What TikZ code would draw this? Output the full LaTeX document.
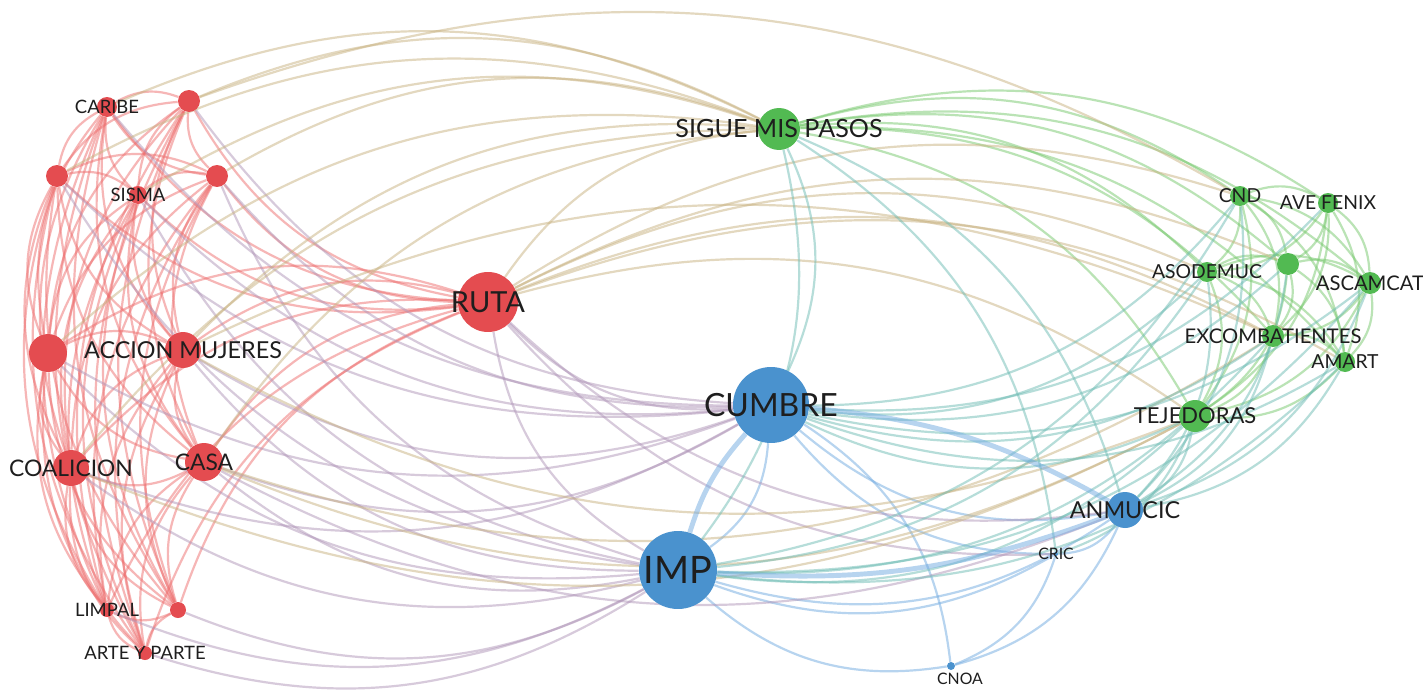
\documentclass[tikz,border=0pt]{standalone}
\usepackage{fontspec}
\setmainfont{Lato}
\usetikzlibrary{calc, backgrounds}

\definecolor{rednode}{RGB}{228,76,80}
\definecolor{greennode}{RGB}{82,186,82}
\definecolor{bluenode}{RGB}{74,146,206}
\definecolor{ered}{RGB}{238,110,110}
\definecolor{egreen}{RGB}{118,200,108}
\definecolor{eblue}{RGB}{112,170,225}
\definecolor{erb}{RGB}{176,150,185}
\definecolor{erg}{RGB}{200,178,128}
\definecolor{ebg}{RGB}{110,188,180}
\definecolor{labeltext}{RGB}{30,30,30}

\newcommand{\lblsize}[1]{\fontsize{#1}{#1}\selectfont}

% one curved link, bent away from the centre
\newcommand{\vlink}[3]{%
  \draw[edge, draw=#3] let \p1=(#1), \p2=(#2), \p3=(ctr),
    \n1={-25*sign(((\x2-\x1)/100)*((\y3-\y1)/100)-((\y2-\y1)/100)*((\x3-\x1)/100))}
    in (#1) to[bend left=\n1] (#2);}

% all links inside one cluster
\newcommand{\clusterlinks}[2]{%
  \foreach \a [count=\i] in {#1} {
    \foreach \b [count=\j] in {#1} {
      \ifnum\j>\i \vlink{\a}{\b}{#2}\fi
    }
  }}

\tikzset{
  vnode/.style={circle, inner sep=0pt, draw=none},
  rnode/.style={vnode, fill=rednode},
  gnode/.style={vnode, fill=greennode},
  bnode/.style={vnode, fill=bluenode},
  lbl/.style={text=labeltext, inner sep=0pt},
  edge/.style={line width=1.25pt, opacity=0.5},
  strong/.style={edge, line width=2.8pt}
}

\begin{document}
\begin{tikzpicture}[x=0.02cm, y=0.02cm]
  \useasboundingbox (0,0) rectangle (1423,691);
  \coordinate (ctr) at (700,345);

  % red cluster
  \node[rnode, minimum size=0.40cm, label={[lbl, font=\lblsize{10.5}]center:CARIBE}] (caribe) at (107,584) {};
  \node[rnode, minimum size=0.44cm] (ra) at (189,590) {};
  \node[rnode, minimum size=0.44cm] (rb) at (57,515) {};
  \node[rnode, minimum size=0.36cm, label={[lbl, font=\lblsize{10.5}]center:SISMA}] (sisma) at (138,496) {};
  \node[rnode, minimum size=0.44cm] (rc) at (217,515) {};
  \node[rnode, minimum size=0.76cm] (rd) at (48,338) {};
  \node[rnode, minimum size=0.72cm, label={[lbl, font=\lblsize{13.3}]center:ACCION MUJERES}] (accion) at (183,341) {};
  \node[rnode, minimum size=0.72cm, label={[lbl, font=\lblsize{13}]center:COALICION}] (coalicion) at (71,223) {};
  \node[rnode, minimum size=0.76cm, label={[lbl, font=\lblsize{13}]center:CASA}] (casa) at (204,229) {};
  \node[rnode, minimum size=0.28cm, label={[lbl, font=\lblsize{10.5}]center:LIMPAL}] (limpal) at (107,81) {};
  \node[rnode, minimum size=0.32cm] (re) at (178,81) {};
  \node[rnode, minimum size=0.28cm, label={[lbl, font=\lblsize{10.5}]center:ARTE Y PARTE}] (arte) at (145,38) {};
  \node[rnode, minimum size=1.20cm, label={[lbl, font=\lblsize{16.5}]center:RUTA}] (ruta) at (488,389) {};

  % green cluster
  \node[gnode, minimum size=0.84cm, label={[lbl, font=\lblsize{14.3}]center:SIGUE MIS PASOS}] (sigue) at (779,562) {};
  \node[gnode, minimum size=0.40cm, label={[lbl, font=\lblsize{11}]center:CND}] (cnd) at (1240,495) {};
  \node[gnode, minimum size=0.40cm, label={[lbl, font=\lblsize{11}]center:AVE FENIX}] (ave) at (1328,488) {};
  \node[gnode, minimum size=0.44cm] (ga) at (1288,427) {};
  \node[gnode, minimum size=0.40cm, label={[lbl, font=\lblsize{11}]center:ASODEMUC}] (asodemuc) at (1207,419) {};
  \node[gnode, minimum size=0.44cm, label={[lbl, font=\lblsize{11.5}]center:ASCAMCAT}] (ascamcat) at (1370,408) {};
  \node[gnode, minimum size=0.44cm, label={[lbl, font=\lblsize{11.5}]center:EXCOMBATIENTES}] (excomb) at (1273,355) {};
  \node[gnode, minimum size=0.40cm, label={[lbl, font=\lblsize{11}]center:AMART}] (amart) at (1345,329) {};
  \node[gnode, minimum size=0.64cm, label={[lbl, font=\lblsize{12.5}]center:TEJEDORAS}] (tejedoras) at (1195,275) {};

  % blue cluster
  \node[bnode, minimum size=1.52cm, label={[lbl, font=\lblsize{18.2}]center:CUMBRE}] (cumbre) at (771,286) {};
  \node[bnode, minimum size=1.56cm, label={[lbl, font=\lblsize{21.5}]center:IMP}] (imp) at (678,121) {};
  \node[bnode, minimum size=0.72cm, label={[lbl, font=\lblsize{13.3}]center:ANMUCIC}] (anmucic) at (1125,181) {};
  \node[bnode, minimum size=0.08cm, label={[lbl, font=\lblsize{9}]center:CRIC}] (cric) at (1056,137) {};
  \node[bnode, minimum size=0.16cm, label={[lbl, font=\lblsize{9}, xshift=0.18cm, yshift=-0.04cm]below:CNOA}] (cnoa) at (951,25) {};

  \begin{scope}[on background layer]
    \fill[white] (0,0) rectangle (1423,691);
    \clip (0,0) rectangle (1423,691);
    % links inside each cluster
    \clusterlinks{caribe,ra,rb,sisma,rc,rd,accion,coalicion,casa,limpal,re,arte,ruta}{ered}
    \clusterlinks{sigue,cnd,ave,ga,asodemuc,ascamcat,excomb,amart,tejedoras}{egreen}
    \clusterlinks{cumbre,imp,anmucic,cric,cnoa}{eblue}
    % links between clusters
    \foreach \a/\b/\c in {
      ruta/cumbre/erb, ruta/imp/erb, ruta/anmucic/erb, accion/cumbre/erb, accion/imp/erb,
      casa/cumbre/erb, casa/imp/erb, coalicion/cumbre/erb, coalicion/imp/erb, rd/cumbre/erb,
      rd/imp/erb, sisma/cumbre/erb, rc/cumbre/erb, ra/cumbre/erb, caribe/cumbre/erb,
      limpal/imp/erb, re/imp/erb, arte/imp/erb, rb/imp/erb, rc/imp/erb, casa/anmucic/erb,
      sisma/imp/erb, rb/cumbre/erb, ruta/cric/erb,
      caribe/sigue/erg, ra/sigue/erg, rb/sigue/erg, sisma/sigue/erg, rc/sigue/erg,
      accion/sigue/erg, ruta/sigue/erg, casa/sigue/erg, coalicion/sigue/erg, rd/sigue/erg,
      ruta/tejedoras/erg, ruta/asodemuc/erg, ruta/cnd/erg, ruta/excomb/erg, casa/tejedoras/erg,
      accion/tejedoras/erg, ruta/ga/erg, ra/cnd/erg, coalicion/tejedoras/erg,
      ruta/amart/erg, accion/excomb/erg, casa/excomb/erg,
      sigue/cumbre/ebg, sigue/imp/ebg, sigue/anmucic/ebg, cumbre/tejedoras/ebg,
      cumbre/asodemuc/ebg, cumbre/cnd/ebg, cumbre/ave/ebg, cumbre/excomb/ebg,
      cumbre/amart/ebg, cumbre/ascamcat/ebg, cumbre/ga/ebg, imp/tejedoras/ebg,
      imp/excomb/ebg, imp/amart/ebg, imp/asodemuc/ebg, anmucic/tejedoras/ebg,
      anmucic/excomb/ebg, anmucic/amart/ebg, anmucic/ascamcat/ebg, anmucic/asodemuc/ebg,
      anmucic/cnd/ebg, anmucic/ga/ebg, sigue/cric/ebg, cric/tejedoras/ebg,
      imp/ascamcat/ebg, imp/cnd/ebg} {
      \vlink{\a}{\b}{\c}
    }
    % strongest links
    \draw[strong, draw=eblue] (cumbre) to[bend right=12] (imp);
    \draw[strong, draw=eblue] (imp) to[bend right=12] (anmucic);
    \draw[strong, draw=eblue] (cumbre) to[bend left=12] (anmucic);
  \end{scope}
\end{tikzpicture}
\end{document}
